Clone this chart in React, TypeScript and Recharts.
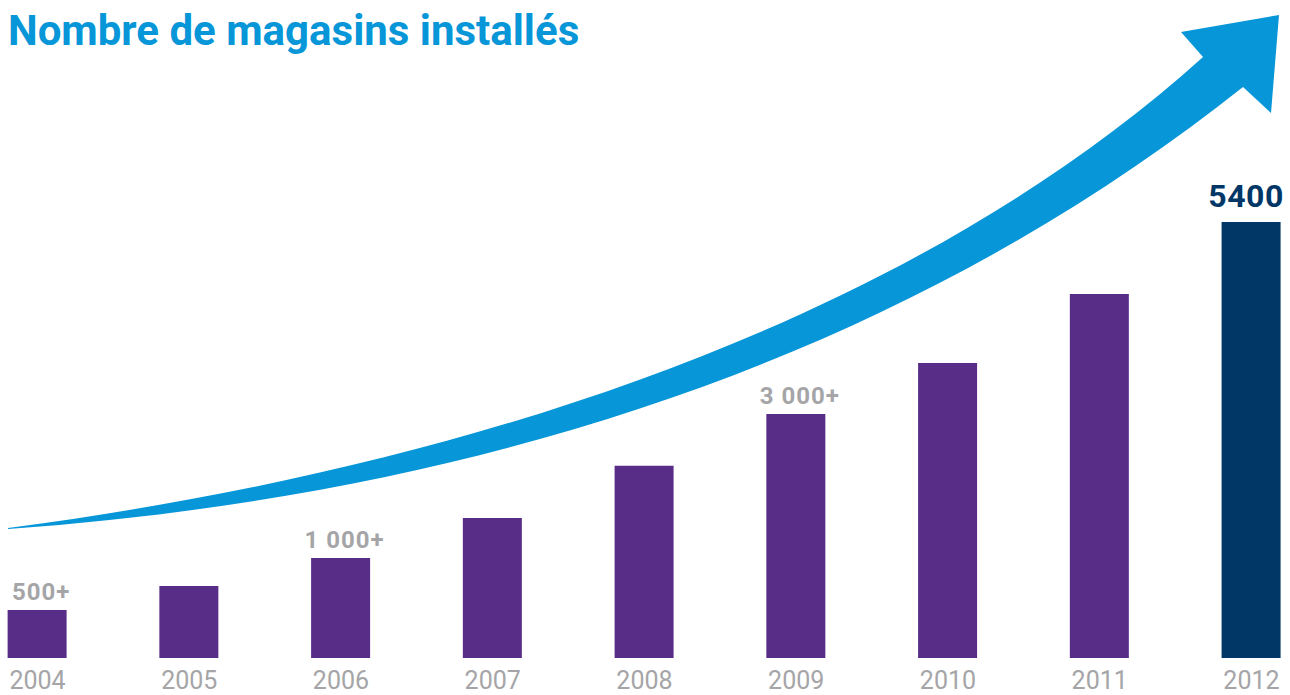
import { BarChart, Bar, XAxis, YAxis, Cell, LabelList } from 'recharts';

const years = [2004, 2005, 2006, 2007, 2008, 2009, 2010, 2011, 2012];
const stores = [594, 892, 1239, 1734, 2382, 3022, 3654, 4508, 5400];
const valueLabels = ['500+', '', '1 000+', '', '', '3 000+', '', '', '5400'];

const data = years.map((year, i) => ({ year, stores: stores[i], label: valueLabels[i] }));

const PURPLE = '#582d88';
const NAVY = '#003767';
const BLUE = '#0796d8';
const GREY = '#a5a5a8';
const FONT = 'Roboto, "Noto Sans", sans-serif';

const YearTick = ({ x, y, payload }: any) => (
  <text x={x} y={y + 23} textAnchor="middle" fill={GREY} fontFamily={FONT} fontSize={25}>
    {payload.value}
  </text>
);

const ValueLabel = ({ x, y, width, value, index }: any) => {
  if (!value) return null;
  const last = index === years.length - 1;
  return (
    <text
      x={x + width / 2 + (last ? -5 : 4)}
      y={last ? y - 15 : y - 10}
      textAnchor="middle"
      fill={last ? NAVY : GREY}
      fontFamily={FONT}
      fontWeight={700}
      fontSize={last ? 32 : 24}
      letterSpacing={last ? 0.5 : 1}
    >
      {value}
    </text>
  );
};

export default function App() {
  return (
    <div style={{ position: 'absolute', left: 0, top: 0, width: 1290, height: 695, background: '#fff', overflow: 'hidden' }}>
      <div
        style={{
          position: 'absolute',
          left: 8,
          top: 10,
          fontFamily: FONT,
          fontWeight: 700,
          fontSize: 42,
          lineHeight: 1,
          color: BLUE,
          whiteSpace: 'nowrap',
        }}
      >
        Nombre de magasins installés
      </div>
      <svg width={1290} height={695} style={{ position: 'absolute', left: 0, top: 0 }}>
        {/* decorative growth arrow */}
        <path
          d="M8,528 C450,470 900,330 1203,57 L1181,32 L1279,15 L1271,113 L1243,87 C950,320 550,490 8,529 Z"
          fill={BLUE}
        />
      </svg>
      <div style={{ position: 'absolute', left: 0, top: 0 }}>
        <BarChart width={1290} height={695} data={data} margin={{ top: 222, right: 0, bottom: 0, left: 0 }}>
          <XAxis
            type="number"
            dataKey="year"
            domain={[2003.753, 2012.254]}
            ticks={years}
            interval={0}
            allowDataOverflow
            axisLine={false}
            tickLine={false}
            height={37}
            tick={<YearTick />}
          />
          <YAxis hide domain={[0, 5400]} />
          <Bar dataKey="stores" barSize={59} isAnimationActive={false}>
            {data.map((d, i) => (
              <Cell key={d.year} fill={i === data.length - 1 ? NAVY : PURPLE} />
            ))}
            <LabelList dataKey="label" content={<ValueLabel />} />
          </Bar>
        </BarChart>
      </div>
    </div>
  );
}
